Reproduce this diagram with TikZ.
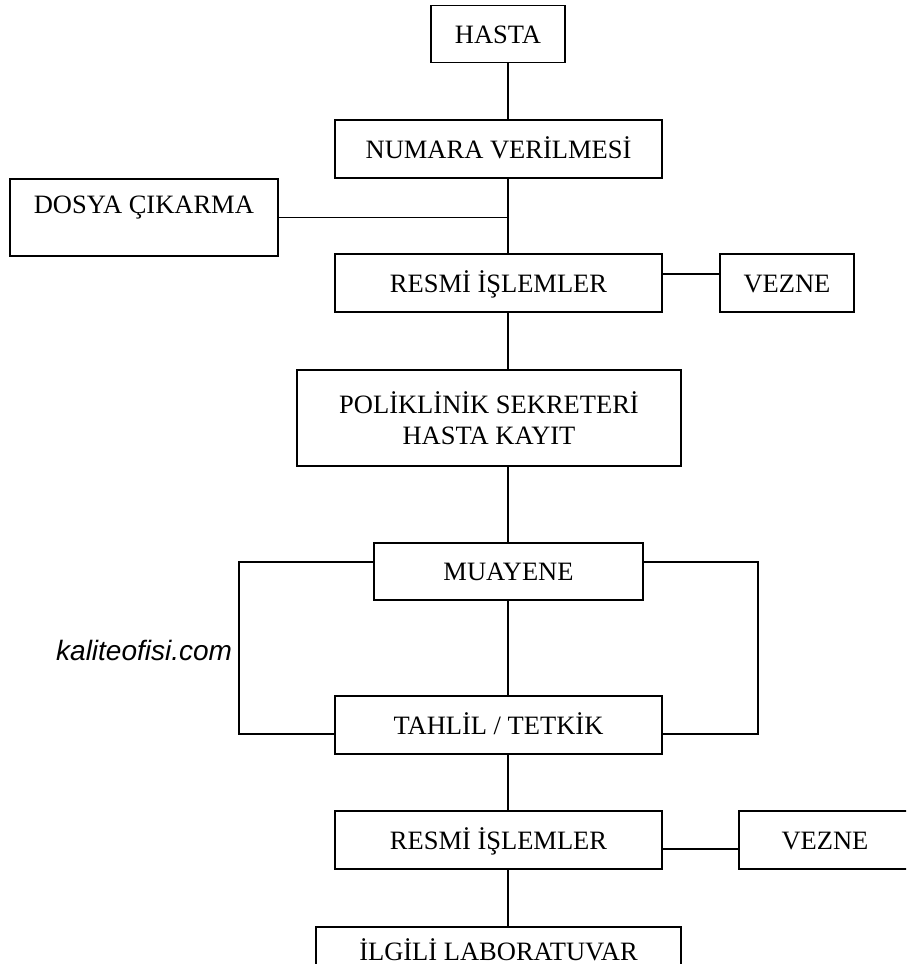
\documentclass[tikz,border=0pt]{standalone}
\usepackage{fontspec}
\setmainfont{Liberation Serif}
\newfontfamily\wmfont{Liberation Sans}
\begin{document}
\begin{tikzpicture}[x=1pt,y=-1pt,
  basebox/.style={draw,line width=1.8pt,inner sep=0pt,align=center,
    font=\fontsize{26.5}{31}\selectfont},
  box/.style={basebox,text height=18pt,text depth=0pt},
  conn/.style={line width=1.6pt},
  thick conn/.style={line width=2.4pt}]
\useasboundingbox (0,0) rectangle (906,964);
\clip (0,0) rectangle (906,964);
\fill[white] (0,0) rectangle (906,964);
\coordinate (spine) at (508,0);
\node[box,minimum width=134pt,minimum height=57pt] (hasta) at (498,34) {HASTA};
\node[box,minimum width=327pt,minimum height=58pt] (numara) at (498.5,149) {NUMARA VERİLMESİ};
\node[basebox,anchor=north west,minimum width=268pt,text height=35pt,text depth=42pt] (dosya) at (9,178) {DOSYA ÇIKARMA};
\node[box,minimum width=327pt,minimum height=58pt] (resmi1) at (498.5,283) {RESMİ İŞLEMLER};
\node[box,minimum width=134pt,minimum height=58pt] (vezne1) at (787,283) {VEZNE};
\node[basebox,minimum width=384pt,minimum height=96pt] (poli) at (489,418) {POLİKLİNİK SEKRETERİ\\HASTA KAYIT};
\node[box,minimum width=269pt,minimum height=57pt] (muayene) at (508.5,571.5) {MUAYENE};
\node[box,minimum width=327pt,minimum height=58pt] (tahlil) at (498.5,725) {TAHLİL / TETKİK};
\node[box,minimum width=327pt,minimum height=58pt] (resmi2) at (498.5,840) {RESMİ İŞLEMLER};
\node[box,minimum width=172pt,minimum height=58pt] (vezne2) at (825,840) {VEZNE};
\node[anchor=base,inner sep=0pt,font=\fontsize{26.5}{31}\selectfont] (ilgili) at (498.5,960) {İLGİLİ LABORATUVAR};
\coordinate (ilgilitop) at (508,927);
\draw[line width=1.8pt] (316,1000) -- (316,927) -- (681,927) -- (681,1000);
\node[anchor=base west,inner sep=0pt,font=\wmfont\itshape\fontsize{28}{32}\selectfont] (wm) at (56,660) {kaliteofisi.com};
\coordinate (lx) at (239,0);
\coordinate (rx) at (758,0);
\coordinate (ly) at (0,562);
\coordinate (by) at (0,734);
\coordinate (vy1) at (0,274);
\coordinate (vy2) at (0,849);
\draw[conn] (hasta.south -| spine) -- (numara.north -| spine);
\draw[conn] (numara.south -| spine) -- (resmi1.north -| spine);
\draw[conn] (dosya.east) -- (dosya.east -| spine);
\draw[thick conn] (resmi1.east |- vy1) -- (vezne1.west |- vy1);
\draw[conn] (resmi1.south -| spine) -- (poli.north -| spine);
\draw[conn] (poli.south -| spine) -- (muayene.north -| spine);
\draw[conn] (muayene.south -| spine) -- (tahlil.north -| spine);
\draw[conn] (muayene.west |- ly) -- (lx |- ly) -- (lx |- by) -- (tahlil.west |- by);
\draw[conn] (muayene.east |- ly) -- (rx |- ly) -- (rx |- by) -- (tahlil.east |- by);
\draw[conn] (tahlil.south -| spine) -- (resmi2.north -| spine);
\draw[thick conn] (resmi2.east |- vy2) -- (vezne2.west |- vy2);
\draw[conn] (resmi2.south -| spine) -- (ilgilitop);
\end{tikzpicture}
\end{document}
